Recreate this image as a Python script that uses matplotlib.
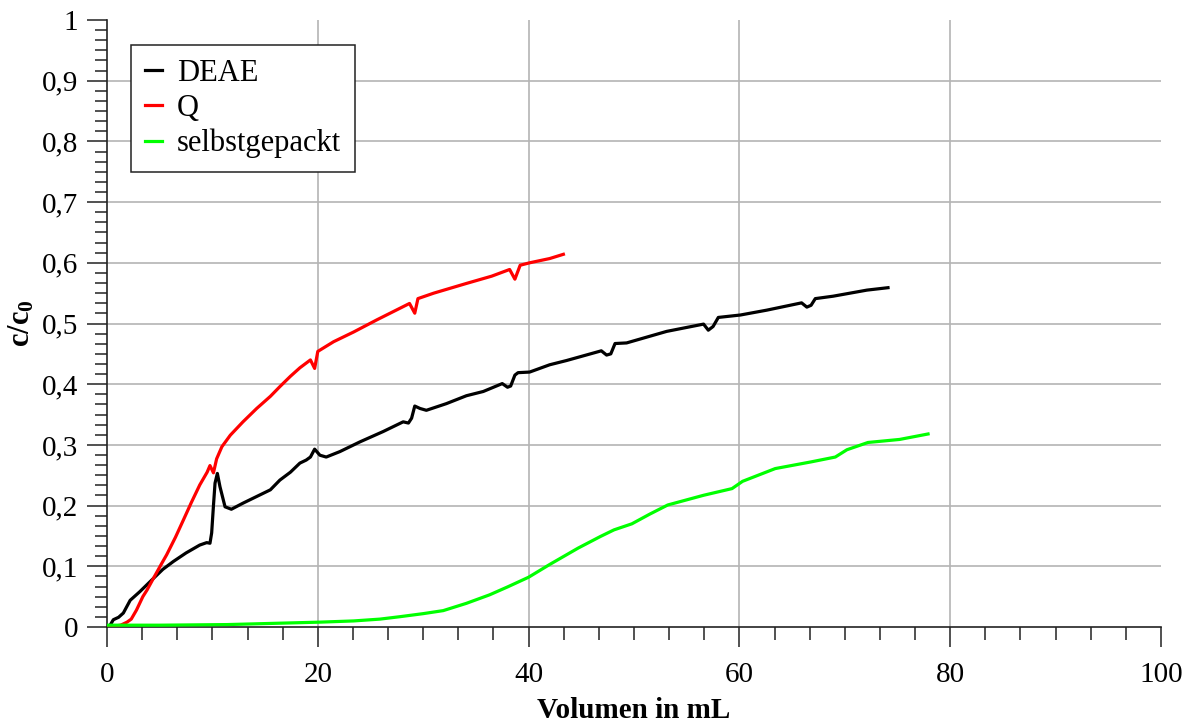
import matplotlib
matplotlib.use("Agg")
import matplotlib.pyplot as plt
from matplotlib.ticker import AutoMinorLocator, FixedLocator, FixedFormatter

# ---------------- data ----------------
deae_x = [0, 0.3, 0.6, 1.1, 1.55, 2.2, 3.1, 4.4, 5.3, 6.3, 7.5, 8.8, 9.46, 9.77, 9.93,
          10.1, 10.25, 10.47, 10.72, 11.2, 11.8, 12.9, 14.2, 15.5, 16.4, 17.4, 18.3,
          18.9, 19.3, 19.7, 20.2, 20.8, 22.1, 24.0, 26.2, 28.1, 28.6, 28.9, 29.2, 29.7,
          30.3, 32.2, 34.1, 35.7, 37.5, 38.0, 38.3, 38.7, 39.0, 40.1, 42.0, 43.6, 46.9,
          47.4, 47.8, 48.2, 49.3, 53.1, 56.6, 57.05, 57.5, 58.0, 60.1, 62.6, 65.9, 66.4,
          66.8, 67.2, 68.9, 72.1, 74.1]
deae_y = [0, 0.003, 0.012, 0.016, 0.023, 0.044, 0.058, 0.08, 0.095, 0.108, 0.122, 0.135,
          0.139, 0.138, 0.155, 0.2, 0.237, 0.253, 0.231, 0.198, 0.194, 0.204, 0.215,
          0.226, 0.242, 0.255, 0.27, 0.275, 0.28, 0.293, 0.283, 0.28, 0.289, 0.305,
          0.322, 0.338, 0.336, 0.344, 0.364, 0.36, 0.357, 0.368, 0.381, 0.388, 0.401,
          0.395, 0.397, 0.415, 0.419, 0.42, 0.432, 0.439, 0.455, 0.448, 0.450, 0.467,
          0.468, 0.487, 0.499, 0.489, 0.495, 0.51, 0.514, 0.522, 0.534, 0.527, 0.530,
          0.541, 0.545, 0.555, 0.559]

q_x = [0, 0.5, 1.3, 1.9, 2.3, 2.8, 3.4, 3.8, 4.4, 5.2, 5.66, 6.5, 7.24, 8.0, 8.8, 9.5,
       9.77, 10.1, 10.4, 10.9, 11.7, 12.9, 14.2, 15.5, 16.4, 17.4, 18.3, 19.3, 19.7, 20.0,
       21.5, 23.4, 25.6, 28.7, 29.2, 29.5, 31.0, 34.1, 36.5, 38.2, 38.7, 39.2, 40.1,
       42.0, 43.3]
q_y = [0, 0.001, 0.003, 0.008, 0.013, 0.028, 0.05, 0.061, 0.08, 0.105, 0.119, 0.148,
       0.176, 0.205, 0.234, 0.255, 0.266, 0.254, 0.277, 0.297, 0.316, 0.338, 0.36,
       0.38, 0.396, 0.413, 0.427, 0.44, 0.426, 0.454, 0.47, 0.486, 0.506, 0.533, 0.517,
       0.541, 0.55, 0.566, 0.578, 0.589, 0.573, 0.596, 0.60, 0.607, 0.614]

g_x = [0, 5, 11.4, 15.8, 20.2, 23.4, 25.9, 27.8, 30, 31.9, 34.1, 36.3, 38, 40.0, 42.0,
       44.7, 46.8, 48.1, 49.8, 51.5, 53.2, 56.6, 59.3, 60.3, 63.4, 66.8, 69.1, 70.2,
       72.2, 75.2, 77.9]
g_y = [0.003, 0.003, 0.004, 0.006, 0.008, 0.01, 0.013, 0.017, 0.022, 0.027, 0.039,
       0.053, 0.066, 0.082, 0.103, 0.13, 0.149, 0.16, 0.17, 0.186, 0.201, 0.217, 0.228,
       0.24, 0.261, 0.272, 0.28, 0.292, 0.304, 0.309, 0.318]

series_names = ["DEAE", "Q", "selbstgepackt"]
xtick_values = [0, 20, 40, 60, 80, 100]
xtick_labels = ["0", "20", "40", "60", "80", "100"]
ytick_values = [0, 0.1, 0.2, 0.3, 0.4, 0.5, 0.6, 0.7, 0.8, 0.9, 1.0]
ytick_labels = ["0", "0,1", "0,2", "0,3", "0,4", "0,5", "0,6", "0,7", "0,8", "0,9", "1"]

# ---------------- style ----------------
plt.rcParams["font.family"] = ["Liberation Serif", "DejaVu Serif"]
plt.rcParams["mathtext.fontset"] = "custom"
plt.rcParams["mathtext.rm"] = "Liberation Serif"
plt.rcParams["mathtext.bf"] = "Liberation Serif:bold"

fig = plt.figure(figsize=(11.92, 7.25), dpi=100)
ax = fig.add_axes([107 / 1192, 1 - 627 / 725, 1054 / 1192, 607 / 725])

lw = 2.3
ax.plot(deae_x, deae_y, color="black", lw=lw, label=series_names[0], zorder=3)
ax.plot(q_x, q_y, color="#ff0000", lw=lw, label=series_names[1], zorder=3)
ax.plot(g_x, g_y, color="#00ff00", lw=lw, label=series_names[2], zorder=3)

ax.set_xlim(0, 100)
ax.set_ylim(0, 1)

for s in ["top", "right"]:
    ax.spines[s].set_visible(False)
for s in ["left", "bottom"]:
    ax.spines[s].set_linewidth(1.2)
    ax.spines[s].set_color("#222222")

ax.xaxis.set_major_locator(FixedLocator(xtick_values))
ax.xaxis.set_major_formatter(FixedFormatter(xtick_labels))
ax.yaxis.set_major_locator(FixedLocator(ytick_values))
ax.yaxis.set_major_formatter(FixedFormatter(ytick_labels))
ax.xaxis.set_minor_locator(AutoMinorLocator(6))
ax.yaxis.set_minor_locator(AutoMinorLocator(6))

ax.tick_params(which="major", direction="out", length=14.5, width=1.1,
               color="#222222", labelsize=21, pad=6)
ax.tick_params(which="minor", direction="out", length=9, width=1.1, color="#222222")
ax.tick_params(axis="x", which="major", pad=11)

# grid at interior major positions
for xv in xtick_values[1:-1]:
    ax.axvline(xv, color="#b4b4b4", lw=1.2, zorder=1)
for yv in ytick_values[1:-1]:
    ax.axhline(yv, color="#b4b4b4", lw=1.2, zorder=1)

ax.set_xlabel("Volumen in mL", fontsize=21, fontweight="bold", labelpad=6)
ax.set_ylabel(r"$\mathbf{c/c_0}$", fontsize=22, labelpad=4)

leg = ax.legend(loc="upper left", bbox_to_anchor=(24 / 1054, (627 - 45) / 607),
                borderaxespad=0, fontsize=22, handlelength=0.55, handletextpad=0.5,
                labelspacing=0.2, borderpad=0.45, fancybox=False, framealpha=1)
leg.get_frame().set_edgecolor("#222222")
leg.get_frame().set_linewidth(1.1)

fig.savefig("out.png", dpi=100)
